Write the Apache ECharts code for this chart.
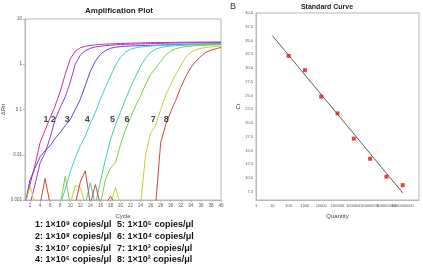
<!DOCTYPE html>
<html>
<head>
<meta charset="utf-8">
<script src="https://cdn.jsdelivr.net/npm/echarts@6.0.0/dist/echarts.min.js"></script>
<title>Amplification Plot / Standard Curve</title>
</head>
<body style="margin:0;background:#fff">
<div id="main" style="width:423px;height:269px"></div>
<script>
// ---- data ----
var B = 0.0008; // below the axis floor (baseline, clipped)
var cycles = [];
for (var c = 1; c <= 40; c++) cycles.push(c);

var amp1 = [B, 0.0022, 0.006, 0.0185, 0.035, 0.066, 0.12, 0.25, 0.6, 1.3,
  1.95, 2.3, 2.5, 2.6, 2.68, 2.74, 2.78, 2.82, 2.85, 2.88,
  2.9, 2.92, 2.94, 2.96, 2.98, 3.0, 3.01, 3.02, 3.03, 3.04,
  3.05, 3.06, 3.07, 3.08, 3.08, 3.09, 3.09, 3.1, 3.1, 3.1];
var amp2 = [B, B, 0.0022, 0.0066, 0.011, 0.024, 0.06, 0.11, 0.19, 0.4,
  1.0, 1.6, 2.0, 2.25, 2.4, 2.5, 2.57, 2.63, 2.68, 2.72,
  2.75, 2.78, 2.8, 2.82, 2.84, 2.86, 2.88, 2.9, 2.92, 2.93,
  2.94, 2.95, 2.96, 2.97, 2.98, 2.99, 3.0, 3.0, 3.01, 3.02];
var amp3 = [B, 0.0028, 0.0051, 0.009, 0.0123, 0.0158, 0.023, 0.031, 0.044, 0.06,
  0.1, 0.167, 0.34, 0.7, 1.17, 1.66, 2.0, 2.25, 2.38, 2.45,
  2.5, 2.53, 2.56, 2.58, 2.6, 2.62, 2.64, 2.66, 2.68, 2.7,
  2.72, 2.73, 2.75, 2.76, 2.78, 2.79, 2.8, 2.81, 2.82, 2.83];
var amp4 = [B, B, B, B, B, B, B, B, 0.0017, 0.0042,
  0.0086, 0.0158, 0.026, 0.049, 0.086, 0.167, 0.31, 0.54, 0.95, 1.44,
  1.85, 2.15, 2.3, 2.4, 2.47, 2.52, 2.56, 2.6, 2.63, 2.66,
  2.68, 2.7, 2.72, 2.74, 2.76, 2.77, 2.78, 2.8, 2.81, 2.82];
var amp5 = [B, B, B, B, B, B, B, B, B, B,
  B, B, B, 0.0024, B, 0.0026, 0.0078, 0.0215, 0.046, 0.086,
  0.167, 0.31, 0.54, 0.9, 1.36, 1.85, 2.15, 2.35, 2.45, 2.52,
  2.57, 2.6, 2.63, 2.66, 2.68, 2.7, 2.72, 2.74, 2.75, 2.76];
var amp6 = [B, B, B, B, B, B, B, B, 0.0033, B,
  B, B, B, B, B, B, 0.0028, 0.0051, 0.0066, 0.0166,
  0.036, 0.066, 0.12, 0.2, 0.36, 0.6, 0.82, 1.15, 1.6, 1.95,
  2.2, 2.35, 2.45, 2.52, 2.57, 2.6, 2.63, 2.66, 2.68, 2.7];
var amp7 = [B, 0.002, B, B, B, B, B, B, B, B,
  0.0021, 0.0019, B, B, B, B, B, B, 0.0019, B,
  B, B, B, B, 0.01, 0.03, 0.045, 0.1, 0.21, 0.36,
  0.6, 0.95, 1.44, 1.85, 2.1, 2.25, 2.35, 2.42, 2.48, 2.52];
var amp8 = [B, B, B, B, 0.003, B, B, B, B, B,
  B, 0.0025, 0.0044, B, 0.0022, B, B, 0.0012, B, B,
  B, B, B, B, B, B, B, 0.0185, 0.046, 0.09,
  0.16, 0.31, 0.54, 0.85, 1.17, 1.5, 1.85, 2.05, 2.2, 2.35];
var ampSeries = [amp1, amp2, amp3, amp4, amp5, amp6, amp7, amp8];
var ampColors = ['#d0309a', '#9c38c8', '#5a44d0', '#3ccfd0', '#40d0a8', '#7cd040', '#c8d030', '#d04830'];

// curve number labels (cycle position, level)
var curveNames = ['1', '2', '3', '4', '5', '6', '7', '8'];
var labelCycles = [5.2, 6.6, 9.4, 13.4, 18.4, 21.3, 26.5, 29.1];
var labelLevel = 0.06;

var xTicks = [2, 4, 6, 8, 10, 12, 14, 16, 18, 20, 22, 24, 26, 28, 30, 32, 34, 36, 38, 40];
var yLogTicks = ['0.001', '0.01', '0.1', '1', '10'];

// standard curve
var quantity = [1e2, 1e3, 1e4, 1e5, 1e6, 1e7, 1e8, 1e9];
var ctValues = [32.2, 29.6, 24.8, 21.75, 17.15, 13.5, 10.24, 8.7];
var fitLine = [[10, 35.9], [1e9, 7.3]];
var ctTicks = [7.5, 10, 12.5, 15, 17.5, 20, 22.5, 25, 27.5, 30, 32.5, 35, 37.5, 40];
var qTicks = [1, 10, 100, 1000, 1e4, 1e5, 1e6, 1e7, 1e8, 1e9, 1e10];

var exponents = [9, 8, 7, 6, 5, 4, 3, 2];
var sup = {'2': '²', '3': '³', '4': '⁴', '5': '⁵', '6': '⁶', '7': '⁷', '8': '⁸', '9': '⁹'};

// ---- chart ----
var chart = echarts.init(document.getElementById('main'), null, {renderer: 'canvas'});
var FONT = 'Liberation Sans, Arial, sans-serif';
var axisGrey = '#b8b8b8';
var tickText = {fontSize: 4.5, color: '#555', fontFamily: FONT};

var series = ampSeries.map(function (vals, i) {
    return {
        type: 'line', xAxisIndex: 0, yAxisIndex: 0,
        data: cycles.map(function (cy, k) { return [cy, vals[k]]; }),
        showSymbol: false, symbol: 'none', clip: true,
        lineStyle: {width: 1, color: ampColors[i]},
        itemStyle: {color: ampColors[i]},
        silent: true, z: 3
    };
});
series.push({
    type: 'scatter', xAxisIndex: 0, yAxisIndex: 0, symbolSize: 0, silent: true, z: 5,
    data: curveNames.map(function (n, i) { return [labelCycles[i], labelLevel, n]; }),
    label: {show: true, position: 'inside', formatter: function (p) { return p.data[2]; },
        fontSize: 9, fontWeight: 'bold', color: '#111', fontFamily: FONT}
});
series.push({
    type: 'line', xAxisIndex: 1, yAxisIndex: 1, data: fitLine, symbol: 'none',
    lineStyle: {width: 0.8, color: '#333'}, silent: true, z: 3
});
series.push({
    type: 'scatter', xAxisIndex: 1, yAxisIndex: 1, symbol: 'rect', symbolSize: 4,
    data: quantity.map(function (q, i) { return [q, ctValues[i]]; }),
    itemStyle: {color: '#dd1616'}, silent: true, z: 4
});

var legendTexts = [];
exponents.forEach(function (e, i) {
    var col = i < 4 ? 0 : 1, row = i % 4;
    legendTexts.push({
        type: 'text', left: col === 0 ? 35 : 117, top: 220 + row * 11.8,
        style: {text: curveNames[i] + ': 1×10' + sup[e] + ' copies/μl',
            font: 'bold 9px ' + FONT, fill: '#111'}
    });
});

var option = {
    animation: false,
    backgroundColor: '#fff',
    grid: [
        {left: 25, top: 19, width: 196, height: 181, show: true, borderColor: axisGrey, borderWidth: 1,
            containLabel: false, outerBoundsMode: 'none'},
        {left: 256, top: 13, width: 163, height: 187, show: true, borderColor: axisGrey, borderWidth: 1,
            containLabel: false, outerBoundsMode: 'none'}
    ],
    xAxis: [
        {type: 'value', gridIndex: 0, min: 1, max: 40,
            name: 'Cycle', nameLocation: 'middle', nameGap: 10,
            nameTextStyle: {fontSize: 6, color: '#444', fontFamily: FONT},
            axisLine: {lineStyle: {color: axisGrey}},
            axisTick: {show: true, length: 2, customValues: xTicks, lineStyle: {color: axisGrey}},
            axisLabel: Object.assign({customValues: xTicks, margin: 3}, tickText),
            splitLine: {show: false}},
        {type: 'log', gridIndex: 1, logBase: 10, min: 1, max: 1e10,
            name: 'Quantity', nameLocation: 'middle', nameGap: 10,
            nameTextStyle: {fontSize: 6, color: '#444', fontFamily: FONT},
            axisLine: {lineStyle: {color: axisGrey}},
            axisTick: {show: false},
            axisLabel: Object.assign({margin: 4, customValues: qTicks,
                formatter: function (v) { return String(Math.round(v)); }}, tickText, {fontSize: 4}),
            splitLine: {show: false}}
    ],
    yAxis: [
        {type: 'log', gridIndex: 0, logBase: 10, min: 0.001, max: 10,
            name: 'ΔRn', nameLocation: 'middle', nameGap: 17, nameRotate: 90,
            nameTextStyle: {fontSize: 6, color: '#444', fontFamily: FONT},
            axisLine: {show: true, lineStyle: {color: axisGrey}},
            axisTick: {show: true, length: 2, lineStyle: {color: axisGrey}},
            axisLabel: Object.assign({margin: 3, formatter: function (v) {
                var k = Math.round(Math.log(v) / Math.LN10) + 3;
                return yLogTicks[k];
            }}, tickText),
            splitLine: {show: false}},
        {type: 'value', gridIndex: 1, min: 6, max: 40,
            name: 'Ct', nameLocation: 'middle', nameGap: 15, nameRotate: 90,
            nameTextStyle: {fontSize: 6, color: '#444', fontFamily: FONT},
            axisLine: {show: true, lineStyle: {color: axisGrey}},
            axisTick: {show: false},
            axisLabel: Object.assign({margin: 3, customValues: ctTicks,
                formatter: function (v) { return v.toFixed(1); }}, tickText, {fontSize: 4}),
            splitLine: {show: false}}
    ],
    graphic: [
        {type: 'text', x: 119, y: 11, style: {text: 'Amplification Plot', font: 'bold 8px ' + FONT,
            fill: '#222', textAlign: 'center', textVerticalAlign: 'middle'}},
        {type: 'text', x: 327, y: 7, style: {text: 'Standard Curve', font: 'bold 7px ' + FONT,
            fill: '#222', textAlign: 'center', textVerticalAlign: 'middle'}},
        {type: 'text', x: 233, y: 6.5, style: {text: 'B', font: '9px ' + FONT,
            fill: '#333', textAlign: 'center', textVerticalAlign: 'middle'}}
    ].concat(legendTexts),
    series: series
};
chart.setOption(option);
</script>
</body>
</html>
